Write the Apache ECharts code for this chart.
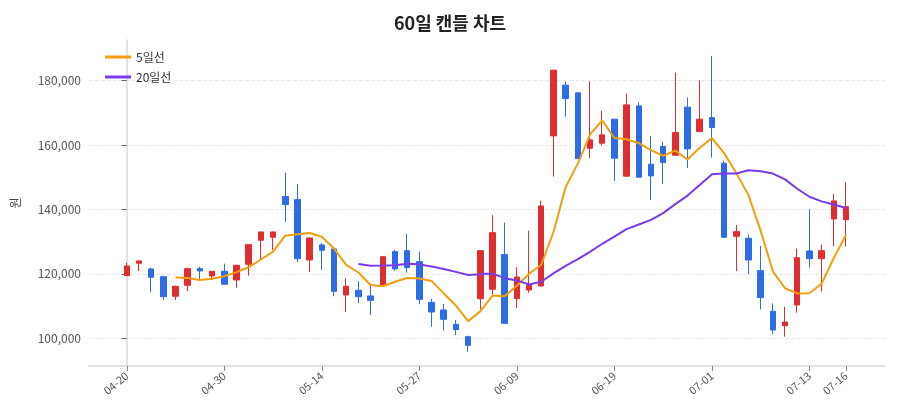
<!DOCTYPE html>
<html><head><meta charset="utf-8">
<script src="https://cdn.jsdelivr.net/npm/echarts@6/dist/echarts.min.js"></script>
<style>html,body{margin:0;padding:0;background:#fff}#c{width:900px;height:420px}</style>
</head><body><div id="c"></div>
<script>
const dates = ['04-20','04-21','04-22','04-23','04-24','04-27','04-28','04-29','04-30',
  '05-04','05-06','05-07','05-08','05-11','05-12','05-13','05-14','05-15','05-18','05-19','05-20','05-21','05-22','05-26','05-27','05-28','05-29',
  '06-01','06-02','06-04','06-05','06-08','06-09','06-10','06-11','06-12','06-15','06-16','06-17','06-18','06-19','06-22','06-23','06-24','06-25','06-26','06-29','06-30',
  '07-01','07-02','07-03','07-06','07-07','07-08','07-09','07-10','07-13','07-14','07-15','07-16'];
const openV = [119440,123290,121520,119130,113050,116460,121620,119350,120810,118110,
  122980,130440,131370,143980,143050,124320,128980,127740,113450,114910,
  113140,116560,126900,127210,123790,111180,108790,104350,100500,112300,
  115220,125970,112300,115000,116240,162830,178580,176190,159010,160570,
  168020,150320,172150,154040,159510,156840,171750,164170,168520,154360,
  131680,131060,121000,108390,103910,110340,127120,124720,137050,136830];
const closeV = [122460,124010,118950,112920,116150,121620,120900,120810,116770,122670,
  129070,133020,133020,141500,124720,131150,127330,114600,116150,112920,
  111800,125340,121520,121930,112110,108170,105900,102670,97830,127210,
  132800,104660,119040,116560,141090,183240,174420,155780,161590,163150,
  155910,172460,150010,150410,154540,163860,158800,168020,165410,131370,
  133110,124320,112610,102580,105060,125030,124720,127210,142650,140870];
const lowV = [119400,120900,114290,111900,111900,114690,118330,118110,116700,115690,
  119440,124630,127430,136120,123700,120590,121210,113050,108170,110870,
  107240,116460,121000,120370,110560,103600,102360,101020,95840,109010,
  113670,104600,109410,114160,116030,150190,168830,155690,155910,159820,
  148860,150250,149950,142960,147930,156780,152890,163980,156090,131250,
  120900,119880,109010,101340,100500,107950,121930,114470,128560,128440];
const highV = [123480,124100,121930,119200,116340,121930,122240,120900,123170,122770,
  129130,133100,133100,151430,147930,131300,129510,128050,118640,117700,
  116340,125400,127430,132400,126900,112210,110650,105680,100810,127270,
  138200,135910,122050,133420,142740,183330,179700,176250,179700,170690,
  168100,175970,173300,162830,161060,182500,174730,180080,187680,155070,
  135190,132180,128670,110870,109810,127830,140070,129060,144730,148440];
// 5일선 starts at index 4, 20일선 at index 19
const ma5Start = 4;
const ma5 = [118900,118730,118110,118480,119250,120550,122040,124470,126910,131860,
  132270,132680,131540,127860,122790,120430,116560,116160,117550,118700,
  118540,117810,113930,110160,105340,108360,113280,113030,116310,120050,
  122830,132920,146870,154220,163220,167640,162170,161780,160620,158390,
  156670,158260,155520,159130,162130,157490,151340,144450,133360,120800,
  115540,113920,114000,116920,124930,132100];
const ma20Start = 19;
const ma20 = [123040,122500,122570,122700,123150,122950,122280,121530,120620,119670,
  119900,120090,118670,117970,116720,117540,120140,122500,124560,126830,
  129340,131550,133900,135330,136750,138870,141660,144300,147570,150950,
  151160,151170,152160,151830,151130,149330,146420,143940,142510,141560,140450];
const xTickIdx = [0,8,16,24,32,40,48,56,59];
const yTicks = [100000,120000,140000,160000,180000];

const FONT = '"Noto Sans CJK KR", "Noto Sans", sans-serif';
const UP = '#df2e31', DOWN = '#2e6ce6';
const chart = echarts.init(document.getElementById('c'));
chart.setOption({
  animation: false,
  backgroundColor: '#fff',
  textStyle: { fontFamily: FONT },
  title: { text: '60일 캔들 차트', left: 'center', top: 9,
    textStyle: { fontSize: 18, fontWeight: 'bold', color: '#222', fontFamily: FONT } },
  legend: { orient: 'vertical', left: 100, top: 44, itemWidth: 26, itemHeight: 3, itemGap: 4,
    icon: 'rect',
    textStyle: { fontSize: 12, color: '#333', fontFamily: FONT, lineHeight: 16 },
    data: ['5일선', '20일선'] },
  grid: { left: 89, right: 15, top: 40, bottom: 54 },
  xAxis: {
    type: 'value', min: -3.1, max: 62.2,
    splitLine: { show: false },
    axisLine: { show: true, lineStyle: { color: '#d6d8e0', width: 1.5 } },
    axisTick: { show: true, customValues: xTickIdx, length: 5, lineStyle: { color: '#888' } },
    axisLabel: { customValues: xTickIdx, formatter: v => dates[v], rotate: 40,
      fontSize: 11, color: '#555', margin: 8, fontFamily: FONT }
  },
  yAxis: {
    type: 'value', min: 91400, max: 192600,
    name: '원', nameLocation: 'middle', nameGap: 68,
    nameTextStyle: { fontSize: 12, color: '#444', fontFamily: FONT },
    axisLine: { show: true, lineStyle: { color: '#d6d8e0', width: 1.5 } },
    axisTick: { show: true, customValues: yTicks, length: 5, lineStyle: { color: '#666' } },
    axisLabel: { customValues: yTicks, fontSize: 12, color: '#555', margin: 8, fontFamily: FONT,
      formatter: v => v.toLocaleString('en-US') },
    splitLine: { show: true, lineStyle: { type: 'dashed', color: '#e8e8ec' } }
  },
  series: [
    {
      type: 'candlestick', name: '캔들',
      encode: { x: 0, y: [1, 2, 3, 4] },
      barWidth: 6,
      data: dates.map((d, i) => [i, openV[i], closeV[i], lowV[i], highV[i]]),
      itemStyle: { color: UP, color0: DOWN, borderColor: UP, borderColor0: DOWN, borderWidth: 1 }
    },
    {
      type: 'line', name: '5일선', symbol: 'none', z: 3,
      data: ma5.map((v, k) => [k + ma5Start, v]),
      lineStyle: { width: 2, color: '#f59e0b' }, itemStyle: { color: '#f59e0b' }
    },
    {
      type: 'line', name: '20일선', symbol: 'none', z: 3,
      data: ma20.map((v, k) => [k + ma20Start, v]),
      lineStyle: { width: 2, color: '#7c3aed' }, itemStyle: { color: '#7c3aed' }
    }
  ]
});
</script></body></html>
